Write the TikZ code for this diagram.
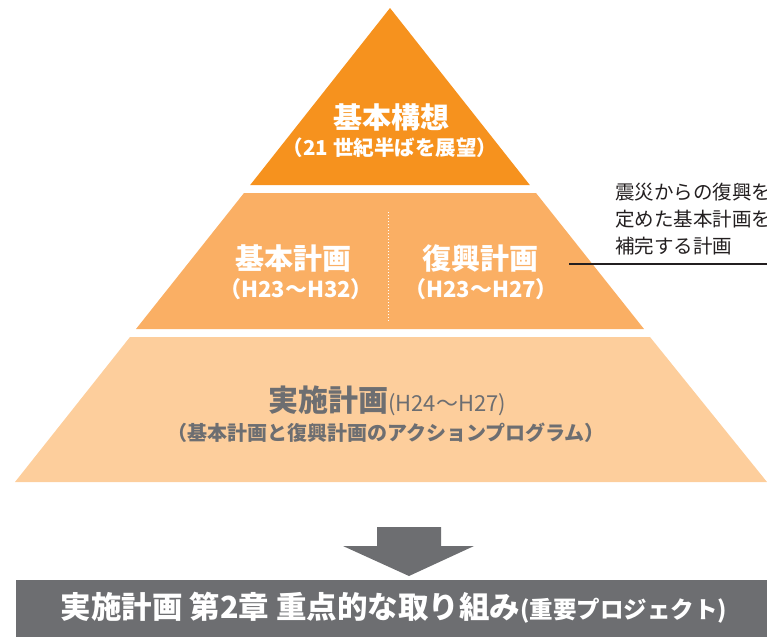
\documentclass[tikz,border=0pt]{standalone}
\usepackage{fontspec}
\setmainfont{Noto Sans CJK JP}
\definecolor{ortop}{HTML}{F6921E}
\definecolor{ormid}{HTML}{FAAF64}
\definecolor{orbot}{HTML}{FDCE9C}
\definecolor{darkgray}{HTML}{6D6E71}
\definecolor{notetext}{HTML}{231F20}
\newcommand{\fs}[1]{\fontsize{#1}{#1}\selectfont}
\tikzset{
  wtext/.style={text=white, font=\bfseries, align=center, inner sep=0pt},
  gtext/.style={text=darkgray, font=\bfseries, align=center, inner sep=0pt},
  notestyle/.style={text=notetext, align=left, inner sep=0pt, anchor=north west,
    font=\fontsize{19.5}{27}\selectfont},
}
\begin{document}
\begin{tikzpicture}[x=1pt,y=-1pt]
\useasboundingbox (0,0) rectangle (767,637);
\clip (0,0) rectangle (767,637);
% pyramid layers (apex 390,8; half-width slope 0.79)
\fill[ortop] (390,8) -- (529.8,185) -- (250.2,185) -- cycle;
\fill[ormid] (244,193) -- (536,193) -- (644,329) -- (136,329) -- cycle;
\fill[orbot] (130,337) -- (650,337) -- (767,482) -- (15,482) -- cycle;
% dotted divider
\coordinate (d1) at (388,212);
\coordinate (d2) at (388,322);
\draw[white, line width=1pt, dotted] (d1) -- (d2);
% top text
\node[wtext] (t1) at (391,117) {\fs{29}基本構想};
\node[wtext] (t2) at (390,148) {\fs{20.5}（21 世紀半ばを展望）};
% middle
\node[wtext] (m1) at (293,258) {\fs{29}基本計画};
\node[wtext] (m2) at (296,289) {\fs{22}（H23〜H32）};
\node[wtext] (m3) at (480,258) {\fs{29}復興計画};
\node[wtext] (m4) at (481,289) {\fs{22}（H23〜H27）};
% bottom
\node[gtext] (b1) at (387,401) {\fs{30}実施計画{\mdseries\fs{22}(H24〜H27)}};
\node[gtext] (b2) at (386,433) {\fs{20}（基本計画と復興計画のアクションプログラム）};
% note
\node[notestyle] (note) at (615,183) {震災からの復興を\\定めた基本計画を\\補完する計画};
\coordinate (l1) at (569,264);
\coordinate (l2) at (767,264);
\draw[notetext, line width=1.3pt] (l1) -- (l2);
% arrow
\fill[darkgray] (377,527) -- (441,527) -- (441,546) -- (474,546) -- (409,576) -- (343,546) -- (377,546) -- cycle;
% bottom bar
\fill[darkgray] (16,580) rectangle (767,637);
\node[wtext] (bar) at (394,608) {\fs{30.5}実施計画 第2章 重点的な取り組み{\fs{23.5}(重要プロジェクト)}};
\end{tikzpicture}
\end{document}
